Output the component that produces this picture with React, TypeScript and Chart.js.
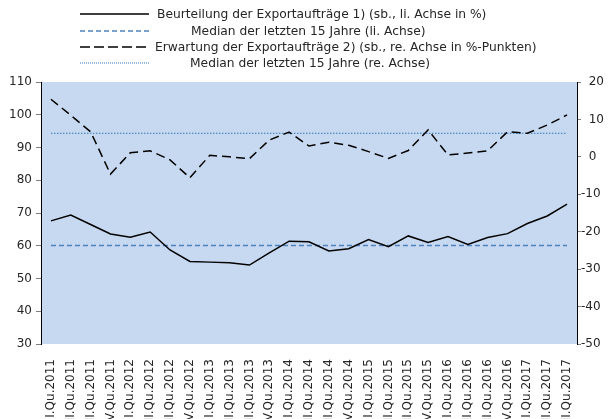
import React, { useEffect, useRef } from "react";
import { Chart, registerables } from "chart.js";

Chart.register(...registerables);

const categories = [
  "I.Qu.2011", "II.Qu.2011", "III.Qu.2011", "IV.Qu.2011",
  "I.Qu.2012", "II.Qu.2012", "III.Qu.2012", "IV.Qu.2012",
  "I.Qu.2013", "II.Qu.2013", "III.Qu.2013", "IV.Qu.2013",
  "I.Qu.2014", "II.Qu.2014", "III.Qu.2014", "IV.Qu.2014",
  "I.Qu.2015", "II.Qu.2015", "III.Qu.2015", "IV.Qu.2015",
  "I.Qu.2016", "II.Qu.2016", "III.Qu.2016", "IV.Qu.2016",
  "I.Qu.2017", "II.Qu.2017", "III.Qu.2017",
];

const beurteilung = [
  67.6, 69.4, 66.5, 63.6, 62.6, 64.2, 58.7, 55.2, 55.0, 54.8, 54.1, 57.8, 61.4, 61.2,
  58.4, 59.1, 61.9, 59.7, 63.0, 61.0, 62.8, 60.4, 62.5, 63.7, 66.8, 69.1, 72.7,
];

const erwartung = [
  15.4, 11.1, 6.7, -4.6, 1.1, 1.6, -0.8, -5.6, 0.4, 0.0, -0.5, 4.5, 6.6, 2.9,
  3.9, 3.1, 1.4, -0.4, 1.7, 7.2, 0.5, 1.0, 1.6, 6.7, 6.3, 8.5, 11.2,
];

const medianLeft = 60.1;
const medianRight = 6.3;

const legendLabels = [
  "Beurteilung der Exportaufträge 1) (sb., li. Achse in %)",
  "Median der letzten 15 Jahre (li. Achse)",
  "Erwartung der Exportaufträge 2) (sb., re. Achse in %-Punkten)",
  "Median der letzten 15 Jahre (re. Achse)",
];

const FONT = '"DejaVu Sans", sans-serif';
const BLACK = "#000000";
const BLUE_DASH = "#4F81BD";
const BLUE_DOT = "#2E75B6";
const BG = "#C6D9F0";

const legendStyles = [
  { color: BLACK, width: 1.5, dash: [] as number[] },
  { color: BLUE_DASH, width: 1.5, dash: [5, 3] },
  { color: BLACK, width: 1.5, dash: [10, 4] },
  { color: BLUE_DOT, width: 1, dash: [1, 1] },
];
const legendRowsY = [14, 31, 47, 63];
const legendTextX = [157, 191, 155, 190];

const bgPlugin = {
  id: "plotBg",
  beforeDraw(chart: any) {
    const { ctx, chartArea } = chart;
    ctx.save();
    ctx.fillStyle = BG;
    ctx.fillRect(chartArea.left, chartArea.top, chartArea.right - chartArea.left, chartArea.bottom - chartArea.top);
    ctx.restore();
  },
};

const legendPlugin = {
  id: "customLegend",
  afterDraw(chart: any) {
    const ctx = chart.ctx;
    ctx.save();
    ctx.font = `12px ${FONT}`;
    const w = ctx.measureText(legendLabels[0]).width;
    const size = (12 * 330) / w;
    ctx.font = `${size}px ${FONT}`;
    ctx.textBaseline = "middle";
    ctx.textAlign = "left";
    legendLabels.forEach((label, i) => {
      const st = legendStyles[i];
      const y = legendRowsY[i];
      ctx.beginPath();
      ctx.strokeStyle = st.color;
      ctx.lineWidth = st.width;
      ctx.setLineDash(st.dash);
      ctx.moveTo(80, y);
      ctx.lineTo(149, y);
      ctx.stroke();
      ctx.setLineDash([]);
      ctx.fillStyle = "#262626";
      ctx.fillText(label, legendTextX[i], y + 1);
    });
    ctx.restore();
  },
};

export default function App() {
  const ref = useRef<HTMLCanvasElement | null>(null);

  useEffect(() => {
    if (!ref.current) return;
    const chart = new Chart(ref.current, {
      type: "line",
      data: {
        labels: categories,
        datasets: [
          {
            label: legendLabels[0],
            data: beurteilung,
            yAxisID: "y",
            borderColor: BLACK,
            borderWidth: 1.5,
            pointRadius: 0,
            tension: 0,
          },
          {
            label: legendLabels[1],
            data: categories.map(() => medianLeft),
            yAxisID: "y",
            borderColor: BLUE_DASH,
            borderWidth: 1.5,
            borderDash: [5, 3],
            pointRadius: 0,
          },
          {
            label: legendLabels[2],
            data: erwartung,
            yAxisID: "y2",
            borderColor: BLACK,
            borderWidth: 1.5,
            borderDash: [9, 5],
            pointRadius: 0,
            tension: 0,
          },
          {
            label: legendLabels[3],
            data: categories.map(() => medianRight),
            yAxisID: "y2",
            borderColor: BLUE_DOT,
            borderWidth: 1,
            borderDash: [1.5, 1.5],
            pointRadius: 0,
          },
        ],
      },
      options: {
        responsive: false,
        animation: false,
        devicePixelRatio: 1,
        layout: { padding: { top: 82, left: 0, right: 0, bottom: 0 } },
        plugins: {
          legend: { display: false },
          tooltip: { enabled: false },
        },
        scales: {
          x: {
            offset: true,
            grid: { display: false, drawTicks: false },
            border: { display: false },
            ticks: {
              autoSkip: false,
              minRotation: 90,
              maxRotation: 90,
              padding: 15,
              color: "#262626",
              font: { family: FONT, size: 12 },
            },
            afterFit(scale: any) {
              scale.height = 75;
            },
          },
          y: {
            position: "left",
            min: 30,
            max: 110,
            ticks: {
              stepSize: 10,
              padding: 4,
              color: "#262626",
              font: { family: FONT, size: 12 },
            },
            grid: { drawOnChartArea: false, drawTicks: true, tickLength: 5, color: "#7F7F7F" },
            border: { display: true, color: BLACK, width: 1 },
            afterFit(scale: any) {
              scale.width = 41;
            },
          },
          y2: {
            position: "right",
            min: -50,
            max: 20,
            ticks: {
              stepSize: 10,
              padding: 0,
              color: "#262626",
              font: { family: FONT, size: 12 },
              callback: (v: any) => (Number(v) >= 0 ? "\u2007" + v : String(v)),
            },
            grid: { drawOnChartArea: false, drawTicks: true, tickLength: 4, color: "#7F7F7F" },
            border: { display: true, color: BLACK, width: 1 },
            afterFit(scale: any) {
              scale.width = 32;
            },
          },
        },
      },
      plugins: [bgPlugin, legendPlugin],
    });
    return () => chart.destroy();
  }, []);

  return (
    <div style={{ position: "fixed", left: 0, top: 0, width: 609, height: 419, overflow: "hidden", background: "#fff" }}>
      <canvas ref={ref} width={609} height={419} style={{ display: "block" }} />
    </div>
  );
}
